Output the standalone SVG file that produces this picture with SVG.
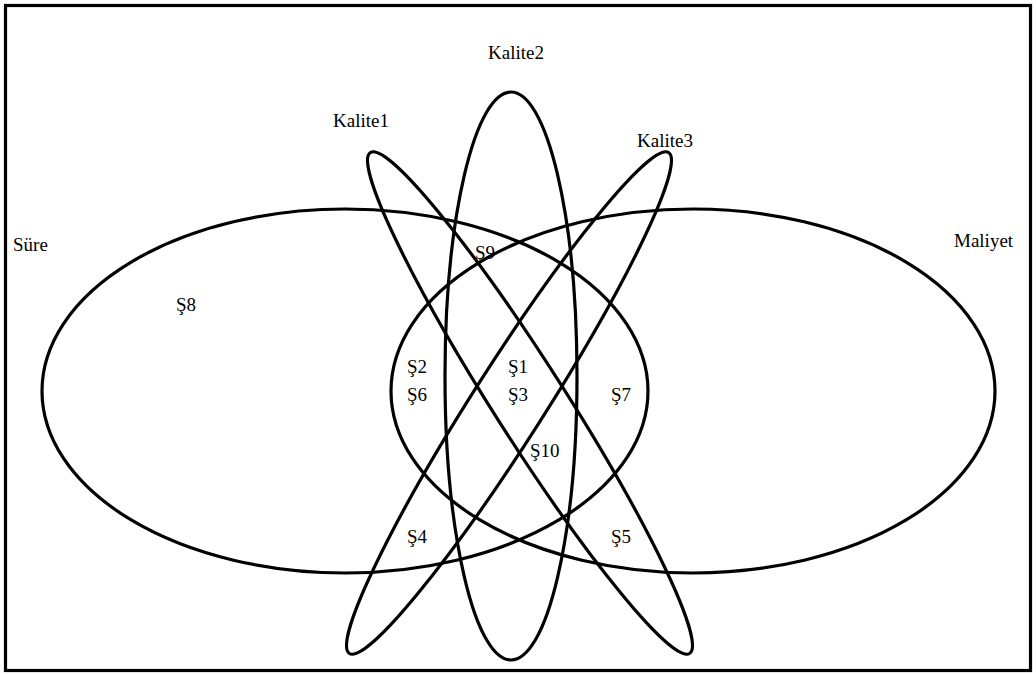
<svg xmlns="http://www.w3.org/2000/svg" width="1036" height="675" viewBox="0 0 1036 675">
<style>
.s{fill:none;stroke:#000;stroke-width:3.2}
text{font-family:'Liberation Serif','Times New Roman','DejaVu Serif',serif;font-size:19px;fill:#000}
</style>
<rect x="0" y="0" width="1036" height="675" fill="#fff"/>
<rect id="frame" class="s" x="5.5" y="5.5" width="1025" height="665"/>
<g id="connectors"></g>
<g id="sure"><ellipse class="s" cx="345" cy="391" rx="303" ry="182"/><text x="13" y="251" font-family="Liberation Serif, serif">Süre</text></g>
<g id="maliyet"><ellipse class="s" cx="693" cy="391" rx="302" ry="182"/><text x="954" y="247" font-family="Liberation Serif, serif">Maliyet</text></g>
<g id="kalite2"><ellipse class="s" cx="511" cy="376" rx="66" ry="284"/><text x="488" y="59" font-family="Liberation Serif, serif">Kalite2</text></g>
<g id="kalite1"><ellipse class="s" cx="0" cy="0" rx="297" ry="36" transform="translate(530 403) rotate(57.5)"/><text x="333" y="127" font-family="Liberation Serif, serif">Kalite1</text></g>
<g id="kalite3"><ellipse class="s" cx="0" cy="0" rx="297" ry="36" transform="translate(509 403) rotate(-57.5)"/><text x="637" y="147" font-family="Liberation Serif, serif">Kalite3</text></g>
<g id="labels" font-family="Liberation Serif, serif">
<text x="176" y="311">Ş8</text>
<text x="475" y="259">Ş9</text>
<text x="407" y="373">Ş2</text>
<text x="407" y="401">Ş6</text>
<text x="508" y="373">Ş1</text>
<text x="508" y="401">Ş3</text>
<text x="611" y="401">Ş7</text>
<text x="530" y="457">Ş10</text>
<text x="407" y="543">Ş4</text>
<text x="611" y="543">Ş5</text>
</g>
</svg>
